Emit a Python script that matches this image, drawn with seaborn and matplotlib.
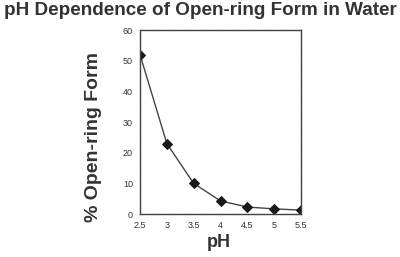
import matplotlib
matplotlib.use("Agg")
import matplotlib.pyplot as plt
import seaborn as sns
import pandas as pd

ph = [2.5, 3.0, 3.5, 4.0, 4.5, 5.0, 5.5]
open_ring = [52, 23, 10, 4.3, 2.3, 1.7, 1.3]
xtick_labels = ["2.5", "3", "3.5", "4", "4.5", "5", "5.5"]
yticks = [0, 10, 20, 30, 40, 50, 60]

sns.set_style("white")
plt.rcParams['font.family'] = ['Liberation Sans', 'DejaVu Sans']

df = pd.DataFrame({"pH": ph, "open": open_ring})
fig = plt.figure(figsize=(4.0, 2.57), dpi=100)
ax = fig.add_axes([0.35, 0.167, 0.4025, 0.716])
sns.lineplot(data=df, x="pH", y="open", ax=ax, color="#444444", linewidth=1.0,
             marker="D", markersize=5, markeredgecolor="#1a1a1a", markerfacecolor="#1a1a1a")
ax.set_xlim(2.5, 5.5)
ax.set_ylim(0, 60)
ax.set_xticks(ph)
ax.set_xticklabels(xtick_labels)
ax.set_yticks(yticks)
ax.tick_params(axis="both", labelsize=6.5, length=3, width=0.7, direction="out",
               colors="#333333", pad=2)
for s in ax.spines.values():
    s.set_visible(True)
    s.set_linestyle((0, (1.5, 0.8)))
    s.set_linewidth(1.0)
    s.set_color("#444444")
ax.set_xlabel("")
ax.set_ylabel("")
fig.text(0.5475, 0.058, "pH", ha="center", va="center", fontsize=13,
         fontweight="bold", color="#333333")
fig.text(0.235, 0.467, "% Open-ring Form", ha="center", va="center", rotation=90,
         fontsize=14, fontweight="bold", color="#333333")
fig.text(0.5, 0.96, "pH Dependence of Open-ring Form in Water", ha="center", va="center",
         fontsize=13.6, fontweight="bold", color="#333333")
fig.savefig("out.png", dpi=100)
